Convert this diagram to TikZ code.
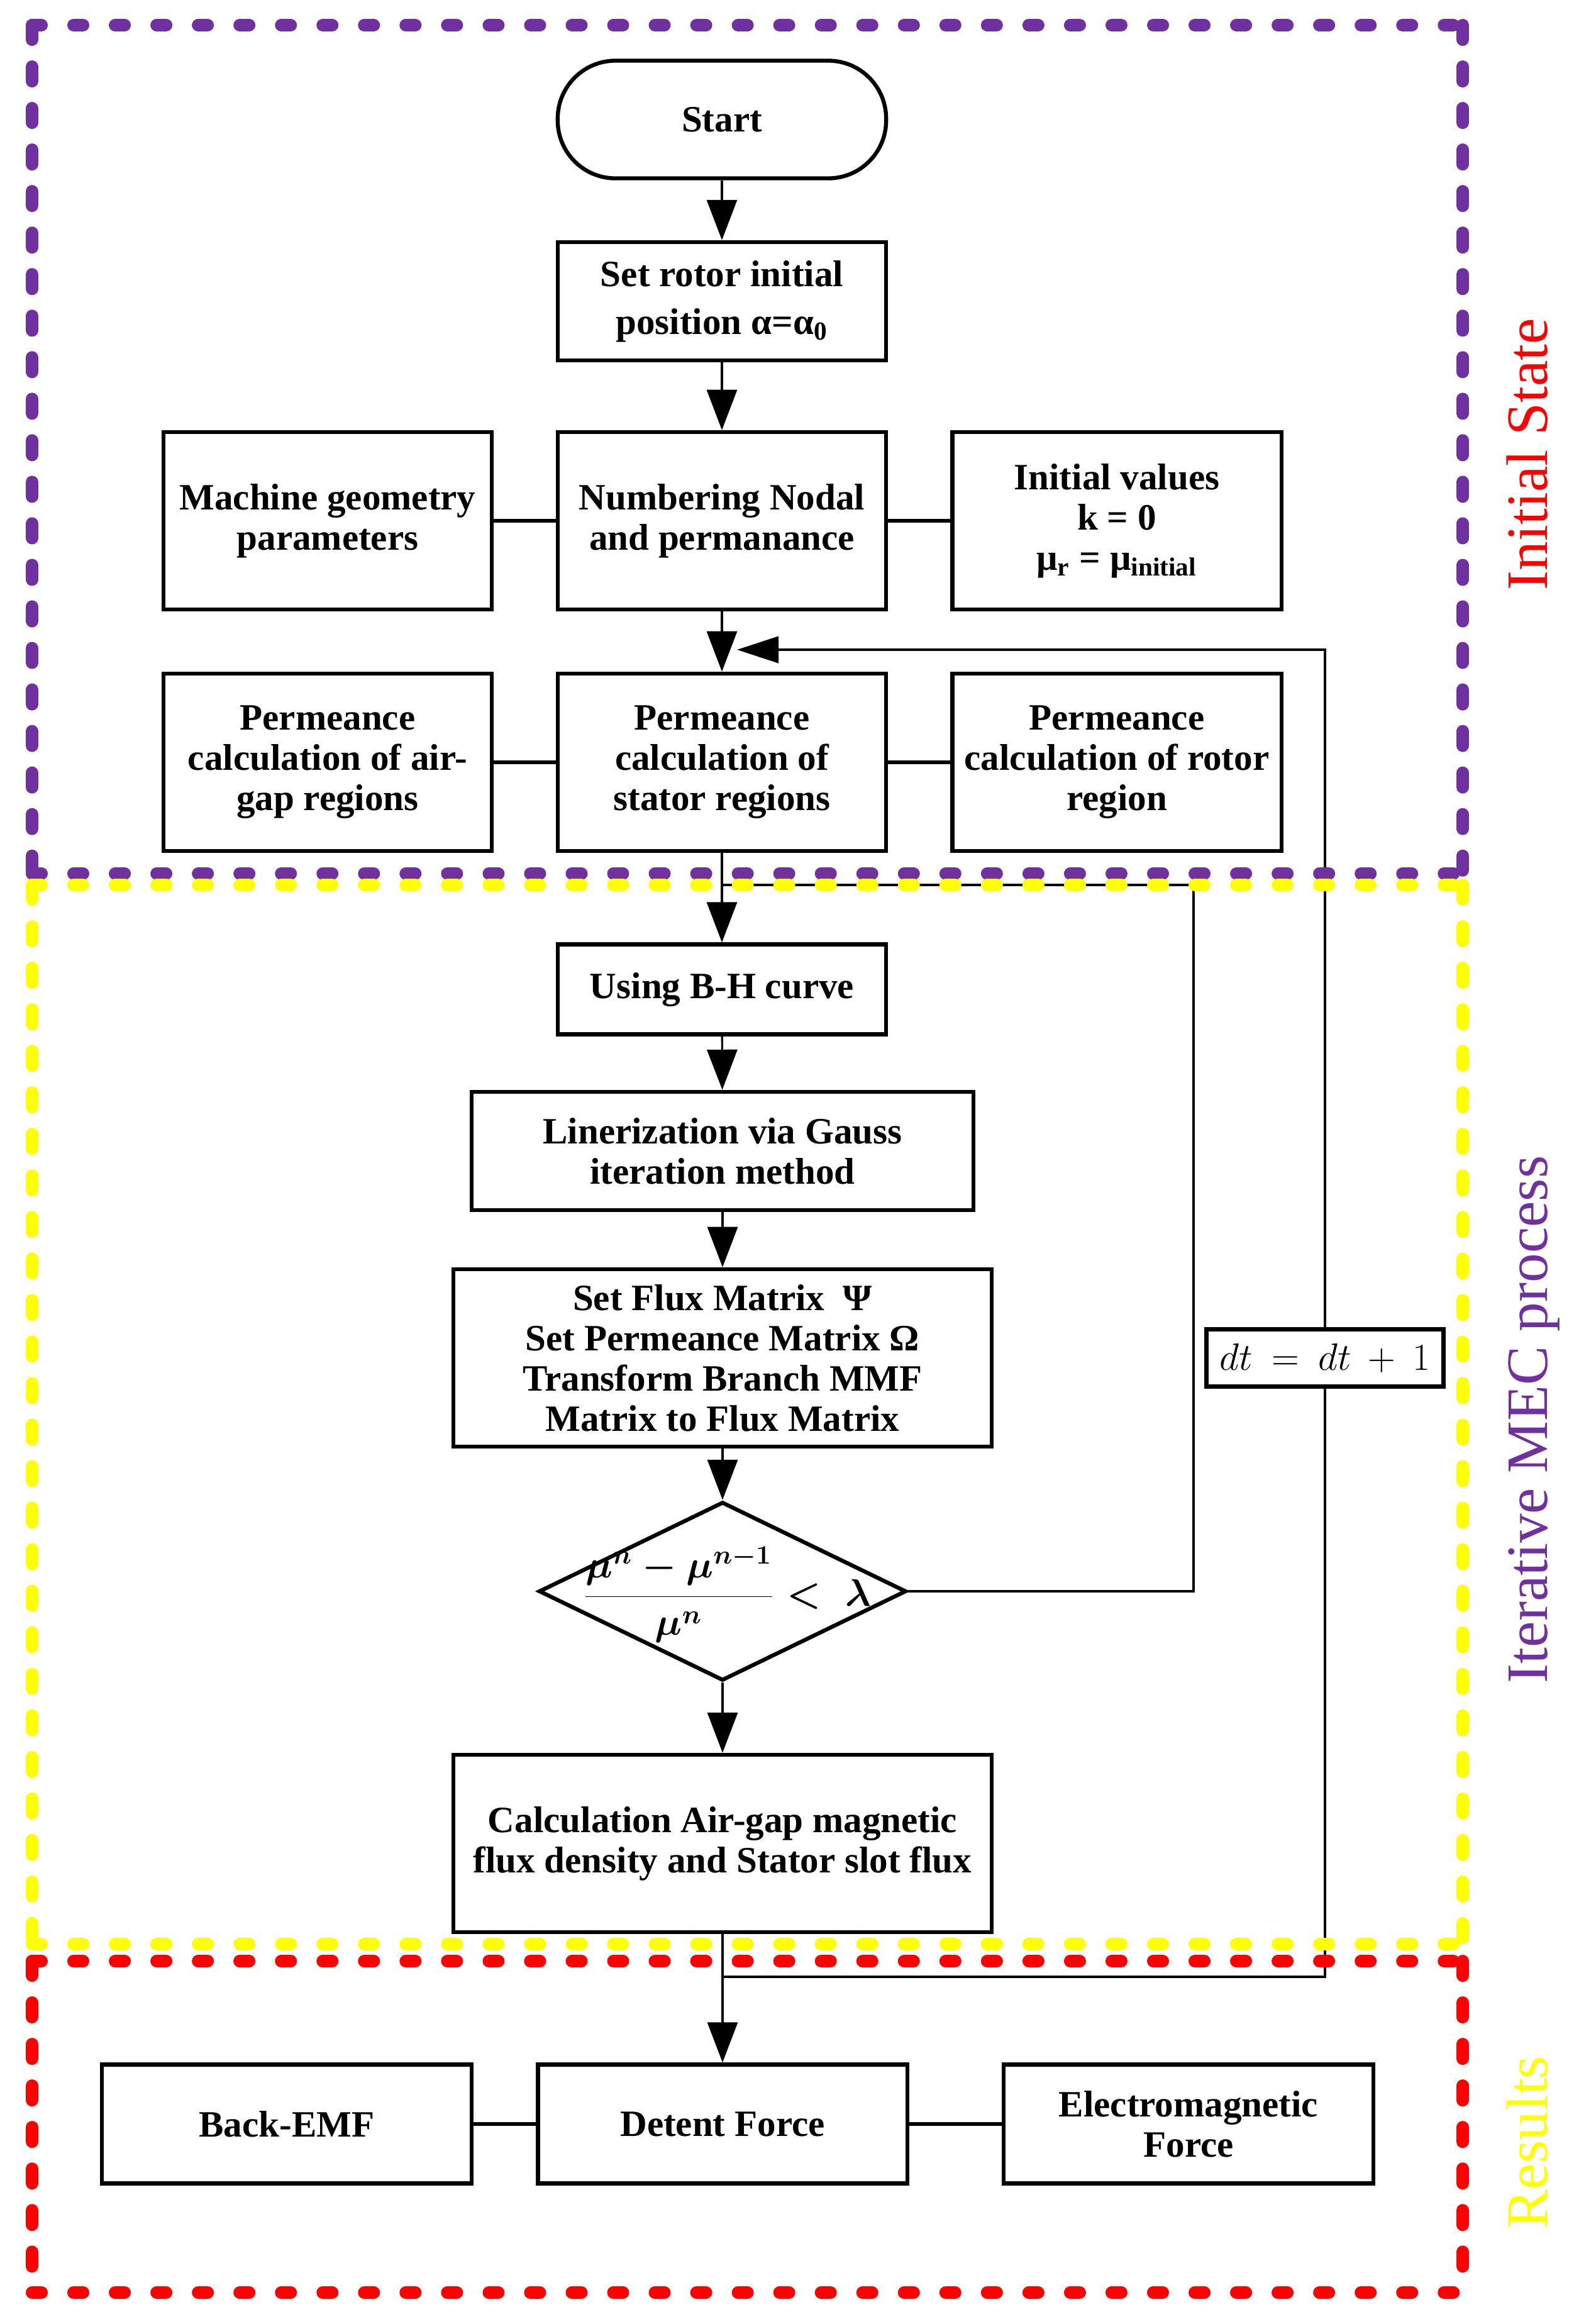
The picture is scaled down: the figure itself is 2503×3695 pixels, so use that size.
\documentclass[tikz,border=0pt]{standalone}
\usepackage{fontspec}
\setmainfont{Liberation Serif}
\usetikzlibrary{arrows.meta,shapes.geometric}
\definecolor{mecpurple}{RGB}{112,48,160}
\definecolor{mecyellow}{RGB}{255,255,0}
\definecolor{mecred}{RGB}{255,0,0}
\begin{document}
\begin{tikzpicture}[x=0.01cm,y=-0.01cm,
  box/.style={draw,line width=1.8pt,rectangle,inner sep=0pt,align=center,fill=white,
    font=\bfseries\fontsize{16.8}{18.2}\selectfont},
  link/.style={line width=1.6pt},
  conn/.style={line width=1.2pt},
  arr/.style={line width=0.9pt,-{Triangle[length=0.64cm,width=0.48cm]}},
  hdash/.style={line width=0.2cm,line cap=round,dash pattern=on 0.15cm off 0.51cm},
  vdash/.style={line width=0.2cm,line cap=round,dash pattern=on 0.23cm off 0.43cm},
  sidelabel/.style={rotate=90,anchor=base,font=\fontsize{26.5}{30}\selectfont},
]
\useasboundingbox (0,0) rectangle (2503,3695);

% ---------- nodes ----------
\node[box,rounded corners=0.92cm,minimum width=5.22cm,minimum height=1.87cm] (start) at (1148,190) {Start};
\node[box,minimum width=5.22cm,minimum height=1.88cm] (rotor) at (1148,479) {Set rotor initial\\[0.12cm]position α=α\textsubscript{0}};

\node[box,minimum width=5.22cm,minimum height=2.82cm] (geom) at (521,828) {Machine geometry\\parameters};
\node[box,minimum width=5.22cm,minimum height=2.82cm] (num) at (1148,828) {Numbering Nodal\\and permanance};
\node[box,minimum width=5.23cm,minimum height=2.82cm] (init) at (1776,828) {Initial values\\k = 0\\μ\textsubscript{r} = μ\textsubscript{initial}};

\node[box,minimum width=5.22cm,minimum height=2.82cm] (airgap) at (521,1212) {Permeance\\calculation of air-\\gap regions};
\node[box,minimum width=5.22cm,minimum height=2.82cm] (stator) at (1148,1212) {Permeance\\calculation of\\stator regions};
\node[box,minimum width=5.23cm,minimum height=2.82cm] (rotreg) at (1776,1212) {Permeance\\calculation of rotor\\region};

\node[box,minimum width=5.22cm,minimum height=1.43cm] (bh) at (1148,1573) {Using B-H curve};
\node[box,minimum width=7.98cm,minimum height=1.88cm] (lin) at (1149,1830) {Linerization via Gauss\\iteration method};
\node[box,minimum width=8.56cm,minimum height=2.82cm] (flux) at (1149,2159) {Set Flux Matrix \ Ψ\\Set Permeance Matrix Ω\\Transform Branch MMF\\Matrix to Flux Matrix};

\node[diamond,draw,line width=1.8pt,inner sep=0pt,minimum width=5.84cm,minimum height=2.84cm] (dec) at (1149,2530) {};
\node[inner sep=0pt,font=\fontsize{17}{20}\selectfont\boldmath] (formula) at (1156,2535)
  {$\displaystyle\frac{\mu^{n}-\mu^{n-1}}{\mu^{n}}<\;\lambda$};

\node[box,minimum width=8.56cm,minimum height=2.82cm] (calc) at (1149,2931) {Calculation Air-gap magnetic\\flux density and Stator slot flux};

\node[box,minimum width=5.87cm,minimum height=1.89cm] (bemf) at (456,3377) {Back-EMF};
\node[box,minimum width=5.87cm,minimum height=1.89cm] (detent) at (1149,3377) {Detent Force};
\node[box,minimum width=5.88cm,minimum height=1.89cm] (emf) at (1890,3377) {Electromagnetic\\Force};

% ---------- coordinates of the loops ----------
\coordinate (loopA) at (1898,2530);
\coordinate (loopB) at (1898,1407);
\coordinate (loopC) at (1149,1407);
\coordinate (retA) at (1149,3143);
\coordinate (retB) at (2107,3143);
\coordinate (retC) at (2107,1033);
\coordinate (retD) at (1172,1033);

% ---------- connectors ----------
\draw[arr] (start) -- (rotor);
\draw[arr] (rotor) -- (num);
\draw[arr] (num) -- (stator);
\draw[arr] (stator) -- (bh);
\draw[arr] (bh) -- (lin);
\draw[arr] (lin) -- (flux);
\draw[arr] (flux) -- (dec.north);
\draw[arr] (dec.south) -- (calc);
\draw[arr] (calc) -- (detent);

\draw[link] (geom) -- (num);
\draw[link] (num) -- (init);
\draw[link] (airgap) -- (stator);
\draw[link] (stator) -- (rotreg);
\draw[link] (bemf) -- (detent);
\draw[link] (detent) -- (emf);

\draw[conn] (dec.east) -- (loopA) -- (loopB) -- (loopC);
\draw[conn,-{Triangle[length=0.66cm,width=0.42cm]}] (retA) -- (retB) -- (retC) -- (retD);

\node[box,font=\fontsize{18}{20}\selectfont,minimum width=3.77cm,minimum height=0.91cm] (dt) at (2107,2159) {$dt \:=\: dt \:+\: 1$};

% ---------- region borders ----------
\draw[mecpurple,hdash] (51,40) -- (2326,40);
\draw[mecpurple,hdash] (51,1389) -- (2326,1389);
\draw[mecpurple,vdash] (51,40) -- (51,1389);
\draw[mecpurple,vdash] (2326,40) -- (2326,1389);

\draw[mecyellow,hdash] (51,1407) -- (2326,1407);
\draw[mecyellow,hdash] (51,3091) -- (2326,3091);
\draw[mecyellow,vdash] (51,1407) -- (51,3091);
\draw[mecyellow,vdash] (2326,1407) -- (2326,3091);

\draw[mecred,hdash] (51,3118) -- (2326,3118);
\draw[mecred,hdash] (51,3645) -- (2326,3645);
\draw[mecred,vdash] (51,3118) -- (51,3645);
\draw[mecred,vdash] (2326,3118) -- (2326,3645);

% ---------- side labels ----------
\node[sidelabel,text=mecred] (labinit) at (2460,722) {Initial State};
\node[sidelabel,text=mecpurple] (labiter) at (2460,2257) {Iterative MEC process};
\node[sidelabel,text=mecyellow] (labres) at (2460,3406) {Results};
\end{tikzpicture}
\end{document}
